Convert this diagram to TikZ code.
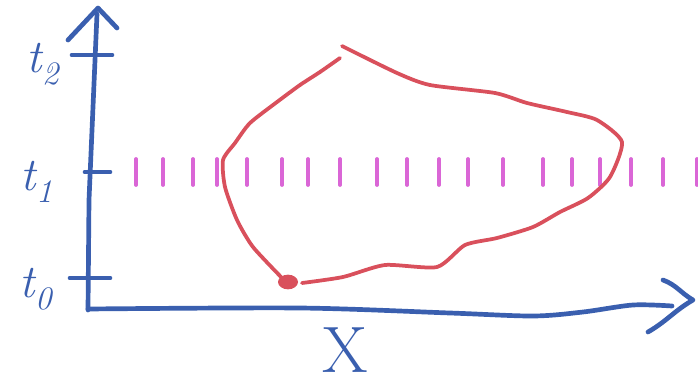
\documentclass[tikz,border=0pt]{standalone}
\usepackage{amsmath}
\usepackage{tikz}
\usepackage{xcolor}
\definecolor{penblue}{RGB}{58,95,175}
\definecolor{penred}{RGB}{217,80,92}
\definecolor{penpink}{RGB}{218,102,214}

\begin{document}
\begin{tikzpicture}[x=0.03cm, y=-0.03cm, line cap=round, line join=round,
    axis/.style={penblue, line width=4pt},
    trace/.style={penred, line width=3.2pt},
    slice/.style={penpink, line width=3.2pt},
    tlabel/.style={penblue, inner sep=0pt, font=\fontsize{40}{40}\selectfont\itshape},
    xlabel/.style={penblue, inner sep=0pt, font=\fontsize{56}{56}\selectfont}]
    \useasboundingbox (0,0) rectangle (698,385);
    \coordinate (O) at (88,310);
    \coordinate (ytip) at (98,8);
    \coordinate (xtip) at (693,300);
    % axes
    \draw [axis] (O) -- (89,200) -- (97,14);
    \draw [axis] (68,40) -- (ytip) -- (117,28);
    \draw [axis] plot[smooth, tension=0.5] coordinates {(88,309) (300,308) (450,313) (533,316) (583,312) (633,305) (672,306)};
    \draw [axis] (663,280) to[out=-20, in=150] (xtip) to[out=-150, in=30] (648,332);
    % ticks on the time axis
    \draw [axis] (72,55) -- (112,55);
    \draw [axis] (85,172) -- (110,172);
    \draw [axis] (70,278) -- (110,278);
    \node [tlabel] (t2) at (43,64) {t\textsubscript{2}};
    \node [tlabel] (t1) at (37,182) {t\textsubscript{1}};
    \node [tlabel] (t0) at (36,289) {t\textsubscript{0}};
    \node [xlabel] (X) at (345,350) {X};
    % slice at t1
    \foreach \x in {136,163,193,217,247,282,308,340,377,407,439,468,503,543,572,600,631,663,697}
        \draw [slice] (\x,159) -- (\x,185);
    % worldline
    \draw [trace] plot[smooth, tension=0.4] coordinates {(342,46) (397,73) (430,85) (495,93) (527,103) (567,112) (597,120) (622,142) (610,177) (588,198) (560,212) (533,227) (497,238) (465,245) (437,267) (385,265) (343,277) (302,283)};
    \draw [trace] plot[smooth, tension=0.4] coordinates {(283,279) (253,247) (237,220) (225,187) (223,160) (235,143) (250,123) (277,102) (300,85) (320,72) (340,58)};
    \fill [penred] (288,282) circle [x radius=0.3cm, y radius=0.22cm];
\end{tikzpicture}
\end{document}
